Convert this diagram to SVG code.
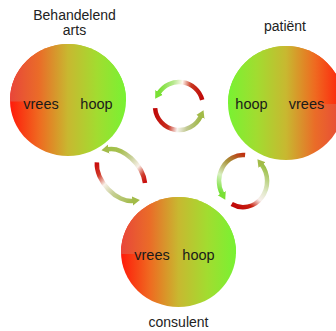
<svg xmlns="http://www.w3.org/2000/svg" width="336" height="331" viewBox="0 0 336 331">
<style>
.lbl{font-family:"Liberation Sans",Arial,sans-serif;font-size:14px;fill:#222;text-anchor:middle}
.in{font-family:"Liberation Sans",Arial,sans-serif;font-size:14.5px;fill:#1a1a1a;text-anchor:middle}
.arc{fill:none;stroke-width:4.5;stroke-linecap:butt}
</style>
<defs>
<linearGradient id="gU" x1="0" y1="0" x2="1" y2="0">
<stop offset="0" stop-color="#e8463a"/><stop offset="0.25" stop-color="#ea6c28"/><stop offset="0.5" stop-color="#c8b830"/><stop offset="0.75" stop-color="#a2dc30"/><stop offset="1" stop-color="#78f232"/>
</linearGradient>
<linearGradient id="gL" x1="0" y1="0" x2="1" y2="0">
<stop offset="0" stop-color="#ff1a0a"/><stop offset="0.25" stop-color="#ef6a20"/><stop offset="0.5" stop-color="#c8b830"/><stop offset="0.75" stop-color="#a2dc30"/><stop offset="1" stop-color="#78f232"/>
</linearGradient>
<linearGradient id="gU2" x1="1" y1="0" x2="0" y2="0">
<stop offset="0" stop-color="#ff1a0a"/><stop offset="0.25" stop-color="#ef6a20"/><stop offset="0.5" stop-color="#c8b830"/><stop offset="0.75" stop-color="#a2dc30"/><stop offset="1" stop-color="#78f232"/>
</linearGradient>
<linearGradient id="gL2" x1="1" y1="0" x2="0" y2="0">
<stop offset="0" stop-color="#e8463a"/><stop offset="0.25" stop-color="#ea6c28"/><stop offset="0.5" stop-color="#c8b830"/><stop offset="0.75" stop-color="#a2dc30"/><stop offset="1" stop-color="#78f232"/>
</linearGradient>
<clipPath id="c1"><rect x="0" y="0" width="336" height="101.5"/></clipPath>
<clipPath id="c2"><rect x="0" y="0" width="336" height="104"/></clipPath>
<clipPath id="c3"><rect x="0" y="0" width="336" height="254"/></clipPath>
<marker id="mG" markerUnits="userSpaceOnUse" markerWidth="10" markerHeight="10" viewBox="0 0 10 10" refX="1" refY="5" orient="auto"><path d="M0,0.5 L7.5,5 L0,9.5 Z" fill="#7ae035"/></marker>
<marker id="mO" markerUnits="userSpaceOnUse" markerWidth="10" markerHeight="10" viewBox="0 0 10 10" refX="1" refY="5" orient="auto"><path d="M0,0.5 L7.5,5 L0,9.5 Z" fill="#a2bb48"/></marker>
<linearGradient id="a1" gradientUnits="userSpaceOnUse" x1="202.2" y1="99.8" x2="158.6" y2="93.3">
<stop offset="0" stop-color="#c00808"/><stop offset="0.3" stop-color="#c83820"/><stop offset="0.5" stop-color="#fff8f0"/><stop offset="0.7" stop-color="#b8e890"/><stop offset="1" stop-color="#78e030"/>
</linearGradient>
<linearGradient id="a2" gradientUnits="userSpaceOnUse" x1="155.1" y1="108.1" x2="200.8" y2="116.1">
<stop offset="0" stop-color="#c00808"/><stop offset="0.35" stop-color="#c83020"/><stop offset="0.55" stop-color="#f8f4f0"/><stop offset="0.75" stop-color="#c0c890"/><stop offset="1" stop-color="#a0b848"/>
</linearGradient>
<linearGradient id="a3" gradientUnits="userSpaceOnUse" x1="21.58" y1="-13.2" x2="-28.19" y2="-6.5">
<stop offset="0" stop-color="#c80a0a"/><stop offset="0.15" stop-color="#d04030"/><stop offset="0.32" stop-color="#f8f0e8"/><stop offset="0.55" stop-color="#c8d098"/><stop offset="0.8" stop-color="#a8c050"/><stop offset="1" stop-color="#a0c048"/>
</linearGradient>
<linearGradient id="a4" gradientUnits="userSpaceOnUse" x1="-25.16" y1="10.35" x2="27.8" y2="7.12">
<stop offset="0" stop-color="#c80a0a"/><stop offset="0.2" stop-color="#d03828"/><stop offset="0.4" stop-color="#f8f0e8"/><stop offset="0.62" stop-color="#c8d098"/><stop offset="1" stop-color="#a2bb48"/>
</linearGradient>
<linearGradient id="a5" gradientUnits="userSpaceOnUse" x1="245.1" y1="155.1" x2="222.2" y2="194">
<stop offset="0" stop-color="#c03010"/><stop offset="0.3" stop-color="#a89038"/><stop offset="0.65" stop-color="#d8f0c0"/><stop offset="1" stop-color="#70e030"/>
</linearGradient>
<linearGradient id="a6" gradientUnits="userSpaceOnUse" x1="231.7" y1="204" x2="261.4" y2="164.3">
<stop offset="0" stop-color="#c00808"/><stop offset="0.2" stop-color="#c82010"/><stop offset="0.4" stop-color="#f8f0ec"/><stop offset="0.6" stop-color="#e0e8c8"/><stop offset="1" stop-color="#9cc048"/>
</linearGradient>
</defs>
<rect width="336" height="331" fill="#ffffff"/>

<g id="arts">
<ellipse cx="68" cy="100" rx="58" ry="56" fill="url(#gL)"/>
<ellipse cx="68" cy="100" rx="58" ry="56" fill="url(#gU)" clip-path="url(#c1)"/>
<text class="in" x="41" y="109">vrees</text>
<text class="in" x="96.5" y="109">hoop</text>
<text class="lbl" x="74.5" y="19.5">Behandelend</text>
<text class="lbl" x="74.5" y="35">arts</text>
</g>

<g id="patient">
<ellipse cx="286" cy="103" rx="58" ry="57" fill="url(#gL2)"/>
<ellipse cx="286" cy="103" rx="58" ry="57" fill="url(#gU2)" clip-path="url(#c2)"/>
<text class="in" x="251.5" y="109">hoop</text>
<text class="in" x="306.5" y="109">vrees</text>
<text class="lbl" x="285" y="31">patiënt</text>
</g>

<g id="consulent">
<ellipse cx="178.5" cy="252" rx="57.5" ry="55" fill="url(#gL)"/>
<ellipse cx="178.5" cy="252" rx="57.5" ry="55" fill="url(#gU)" clip-path="url(#c3)"/>
<text class="in" x="152" y="260">vrees</text>
<text class="in" x="198.5" y="260">hoop</text>
<text class="lbl" x="178.5" y="327">consulent</text>
</g>

<g id="connectors">
<path class="arc" d="M202.2,99.8 A24,24 0 0 0 158.6,93.3" stroke="url(#a1)" marker-end="url(#mG)"/>
<path class="arc" d="M155.1,108.1 A24,24 0 0 0 200.8,116.1" stroke="url(#a2)" marker-end="url(#mO)"/>
<g transform="translate(121,175) rotate(50)">
<path class="arc" d="M21.58,-13.2 A30,19 0 0 0 -28.19,-6.5" stroke="url(#a3)" marker-end="url(#mO)"/>
<path class="arc" d="M-25.16,10.35 A30,19 0 0 0 27.8,7.12" stroke="url(#a4)" marker-end="url(#mO)"/>
</g>
<path class="arc" d="M245.1,155.1 A24,26 0 0 0 222.2,194" stroke="url(#a5)" marker-end="url(#mG)"/>
<path class="arc" d="M231.7,204 A24,26 0 0 0 261.4,164.3" stroke="url(#a6)" marker-end="url(#mO)"/>
</g>
</svg>
